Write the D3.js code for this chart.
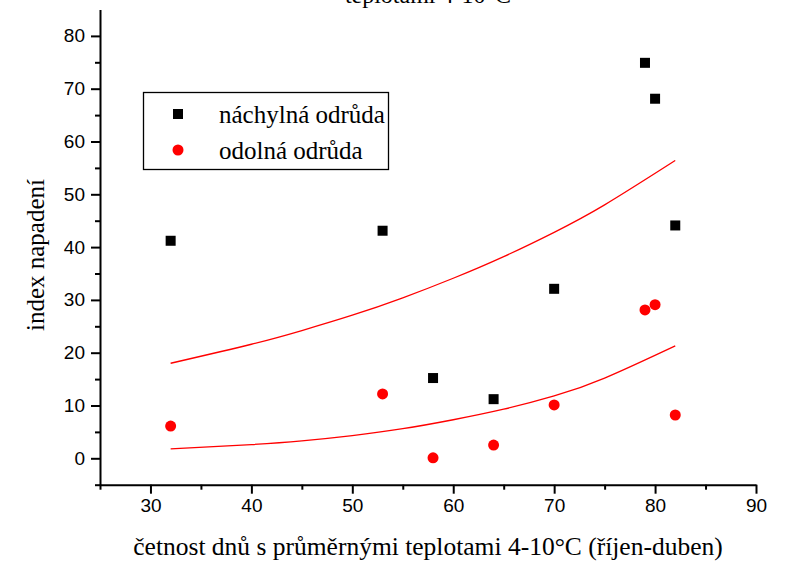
<!DOCTYPE html>
<html>
<head>
<meta charset="utf-8">
<script src="https://cdn.jsdelivr.net/npm/d3@7"></script>
<style>
    body { margin: 0; background: #fff; }
    #chart-vis svg { display: block; }
</style>
</head>
<body>
<div id="chart-vis"></div>
<script>
// days with mean temperature 4-10 C (x) and infection index (y)
const susceptibleX = [32, 53, 58, 64, 70, 79, 80, 82];
const susceptibleY = [41.2, 43.1, 15.2, 11.2, 32.1, 74.9, 68.1, 44.1];
const resistantX = [32, 53, 58, 64, 70, 79, 80, 82];
const resistantY = [6.1, 12.2, 0.1, 2.5, 10.1, 28.1, 29.1, 8.2];

// the two red curves
const upperCurveX = [32, 40, 45, 50, 55, 60, 65, 70, 75, 82];
const upperCurveY = [18.0, 21.6, 24.2, 27.1, 30.4, 34.1, 38.2, 42.8, 48.0, 56.4];
const lowerCurveX = [32, 40, 45, 50, 55, 60, 65, 70, 75, 82];
const lowerCurveY = [1.8, 2.6, 3.3, 4.3, 5.6, 7.3, 9.3, 11.8, 15.2, 21.3];

const xMajorTicks = [30, 40, 50, 60, 70, 80, 90];
const xMinorTicks = [25, 35, 45, 55, 65, 75, 85];
const yMajorTicks = [0, 10, 20, 30, 40, 50, 60, 70, 80];
const yMinorTicks = [-5, 5, 15, 25, 35, 45, 55, 65, 75];

const seriesNames = ["náchylná odrůda", "odolná odrůda"];
const titleText = "teplotami 4-10°C";
const xTitle = "četnost dnů s průměrnými teplotami 4-10°C (říjen-duben)";
const yTitle = "index napadení";

/**
 * Constructor for the scatter chart
 */
function ScatterVis(){
    let self = this;
    self.init();
};

/**
 * Builds svg, scales, axes and marks
 */
ScatterVis.prototype.init = function(){
    let self = this;
    self.width = 790;
    self.height = 562;

    self.svg = d3.select("#chart-vis").append("svg")
        .attr("width", self.width)
        .attr("height", self.height);

    self.x = d3.scaleLinear().domain([25, 90]).range([100, 756]);
    self.y = d3.scaleLinear().domain([-5, 85]).range([484.7, 9.5]);

    const serif = "'Liberation Serif', 'Times New Roman', serif";
    const sans = "'Liberation Sans', Arial, sans-serif";

    // title, cut off at the top edge like the original
    self.svg.append("text")
        .attr("x", 428)
        .attr("y", 3)
        .attr("text-anchor", "middle")
        .style("font-family", serif)
        .style("font-size", "24px")
        .text(titleText);

    // x axis
    let xAxisG = self.svg.append("g")
        .attr("transform", "translate(0," + self.y(-5) + ")");
    xAxisG.call(d3.axisBottom(self.x).tickValues(xMajorTicks).tickSize(9).tickSizeOuter(0).tickPadding(5));
    xAxisG.append("g").call(d3.axisBottom(self.x).tickValues(xMinorTicks).tickSize(5).tickFormat(""))
        .select(".domain").remove();

    // y axis
    let yAxisG = self.svg.append("g")
        .attr("transform", "translate(" + self.x(25) + ",0)");
    yAxisG.call(d3.axisLeft(self.y).tickValues(yMajorTicks).tickSize(9).tickSizeOuter(0).tickPadding(6));
    yAxisG.append("g").call(d3.axisLeft(self.y).tickValues(yMinorTicks).tickSize(5).tickFormat(""))
        .select(".domain").remove();

    self.svg.selectAll(".tick text")
        .style("font-family", sans)
        .style("font-size", "19px")
        .attr("fill", "#000");
    self.svg.selectAll(".domain, .tick line")
        .attr("stroke", "#000")
        .attr("stroke-width", 2);

    // axis titles
    self.svg.append("text")
        .attr("x", 428)
        .attr("y", 555)
        .attr("text-anchor", "middle")
        .style("font-family", serif)
        .style("font-size", "25.5px")
        .text(xTitle);
    self.svg.append("text")
        .attr("transform", "translate(44,255) rotate(-90)")
        .attr("text-anchor", "middle")
        .style("font-family", serif)
        .style("font-size", "25px")
        .text(yTitle);

    // red curves
    let line = d3.line()
        .x(function(d) { return self.x(d[0]); })
        .y(function(d) { return self.y(d[1]); })
        .curve(d3.curveNatural);
    [[upperCurveX, upperCurveY], [lowerCurveX, lowerCurveY]].forEach(function(c){
        self.svg.append("path")
            .datum(d3.zip(c[0], c[1]))
            .attr("fill", "none")
            .attr("stroke", "#ff0000")
            .attr("stroke-width", 1.3)
            .attr("d", line);
    });

    // black squares
    const sq = 10;
    self.svg.selectAll(".susceptible")
        .data(d3.zip(susceptibleX, susceptibleY))
        .enter()
        .append("rect")
        .attr("class", "susceptible")
        .attr("x", function(d) { return self.x(d[0]) - sq/2; })
        .attr("y", function(d) { return self.y(d[1]) - sq/2; })
        .attr("width", sq)
        .attr("height", sq)
        .attr("fill", "#000");

    // red circles
    self.svg.selectAll(".resistant")
        .data(d3.zip(resistantX, resistantY))
        .enter()
        .append("circle")
        .attr("class", "resistant")
        .attr("cx", function(d) { return self.x(d[0]); })
        .attr("cy", function(d) { return self.y(d[1]); })
        .attr("r", 5.5)
        .attr("fill", "#ff0000");

    // legend
    let legend = self.svg.append("g");
    legend.append("rect")
        .attr("x", 143.5)
        .attr("y", 92.5)
        .attr("width", 245)
        .attr("height", 77)
        .attr("fill", "#fff")
        .attr("stroke", "#000")
        .attr("stroke-width", 1.3);
    legend.append("rect")
        .attr("x", 178 - sq/2)
        .attr("y", 114 - sq/2)
        .attr("width", sq)
        .attr("height", sq)
        .attr("fill", "#000");
    legend.append("circle")
        .attr("cx", 178)
        .attr("cy", 150)
        .attr("r", 5.5)
        .attr("fill", "#ff0000");
    legend.selectAll(".legend-label")
        .data(seriesNames)
        .enter()
        .append("text")
        .attr("class", "legend-label")
        .attr("x", 219)
        .attr("y", function(d, i) { return 123 + i*36; })
        .style("font-family", serif)
        .style("font-size", "25px")
        .text(function(d) { return d; });
};

new ScatterVis();
</script>
</body>
</html>
